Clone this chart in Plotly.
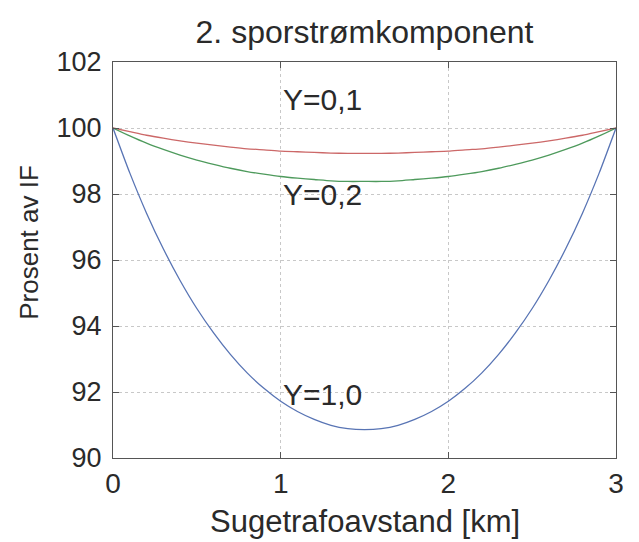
import plotly.graph_objects as go

# Distance along the section [km]
distance_km = [round(0.1 * i, 1) for i in range(31)]

# Current in percent of IF for three values of Y
pct_y01 = [100.00, 99.89, 99.78, 99.69, 99.61, 99.54, 99.48, 99.42, 99.37, 99.34,
           99.30, 99.28, 99.26, 99.24, 99.23, 99.23, 99.23, 99.24, 99.26, 99.28,
           99.30, 99.34, 99.37, 99.42, 99.48, 99.54, 99.61, 99.69, 99.78, 99.89, 100.00]
pct_y02 = [100.00, 99.76, 99.54, 99.35, 99.18, 99.03, 98.90, 98.78, 98.68, 98.60,
           98.53, 98.48, 98.44, 98.40, 98.38, 98.38, 98.38, 98.40, 98.44, 98.48,
           98.53, 98.60, 98.68, 98.78, 98.90, 99.03, 99.18, 99.35, 99.54, 99.76, 100.00]
pct_y10 = [100.00, 98.64, 97.42, 96.34, 95.38, 94.53, 93.79, 93.14, 92.58, 92.11,
           91.72, 91.41, 91.17, 90.99, 90.89, 90.86, 90.89, 90.99, 91.17, 91.41,
           91.72, 92.11, 92.58, 93.14, 93.79, 94.53, 95.38, 96.34, 97.42, 98.64, 100.00]

curve_labels = ["Y=0,1", "Y=0,2", "Y=1,0"]
label_pos_y = [100.85, 97.99, 91.93]

x_ticks = [0, 1, 2, 3]
y_ticks = [90, 92, 94, 96, 98, 100, 102]

FONT = "Liberation Sans, Arial, sans-serif"
TXT = "#2a2a2a"

fig = go.Figure()
for vals, col in [(pct_y01, "#cc6868"), (pct_y02, "#4e9a5c"), (pct_y10, "#5874b4")]:
    fig.add_trace(go.Scatter(x=distance_km, y=vals, mode="lines",
                             line=dict(color=col, width=1.3, shape="spline", smoothing=0.6),
                             showlegend=False, hoverinfo="skip"))

for txt, yy in zip(curve_labels, label_pos_y):
    fig.add_annotation(x=1.0, y=yy, xref="x", yref="y", text=txt, showarrow=False,
                       xanchor="left", yanchor="middle",
                       font=dict(family=FONT, size=30, color=TXT))

# axis titles, placed by hand
fig.add_annotation(x=-0.167, y=0.546, xref="paper", yref="paper", text="Prosent av IF",
                   textangle=-90, showarrow=False, xanchor="center", yanchor="middle",
                   font=dict(family=FONT, size=26, color=TXT))
fig.add_annotation(x=0.5, y=-0.160, xref="paper", yref="paper", text="Sugetrafoavstand [km]",
                   showarrow=False, xanchor="center", yanchor="middle",
                   font=dict(family=FONT, size=31, color=TXT))

axis_common = dict(
    showline=True, linecolor="#555555", linewidth=1.2, mirror="ticks",
    ticks="inside", ticklen=6, tickcolor="#555555", tickwidth=1,
    showgrid=True, gridcolor="#c8c8c8", griddash="dot", gridwidth=1,
    zeroline=False,
)

fig.update_xaxes(range=[0, 3], tickvals=x_ticks, ticktext=[str(v) for v in x_ticks],
                 tickfont=dict(family=FONT, size=28, color=TXT),
                 ticklabelstandoff=0, **axis_common)
fig.update_yaxes(range=[90, 102], tickvals=y_ticks, ticktext=[str(v) for v in y_ticks],
                 tickfont=dict(family=FONT, size=27, color=TXT),
                 ticklabelstandoff=5, **axis_common)

fig.update_layout(
    width=639, height=542,
    margin=dict(l=113, r=23, t=62, b=84),
    paper_bgcolor="white", plot_bgcolor="white",
    font=dict(family=FONT, color=TXT),
    title=dict(text="2. sporstrømkomponent", x=(113 + 616) / 2 / 639, xanchor="center",
               y=1 - 32 / 542, yanchor="middle", yref="container",
               font=dict(family=FONT, size=32, color=TXT)),
)

fig.write_html("out.html")
